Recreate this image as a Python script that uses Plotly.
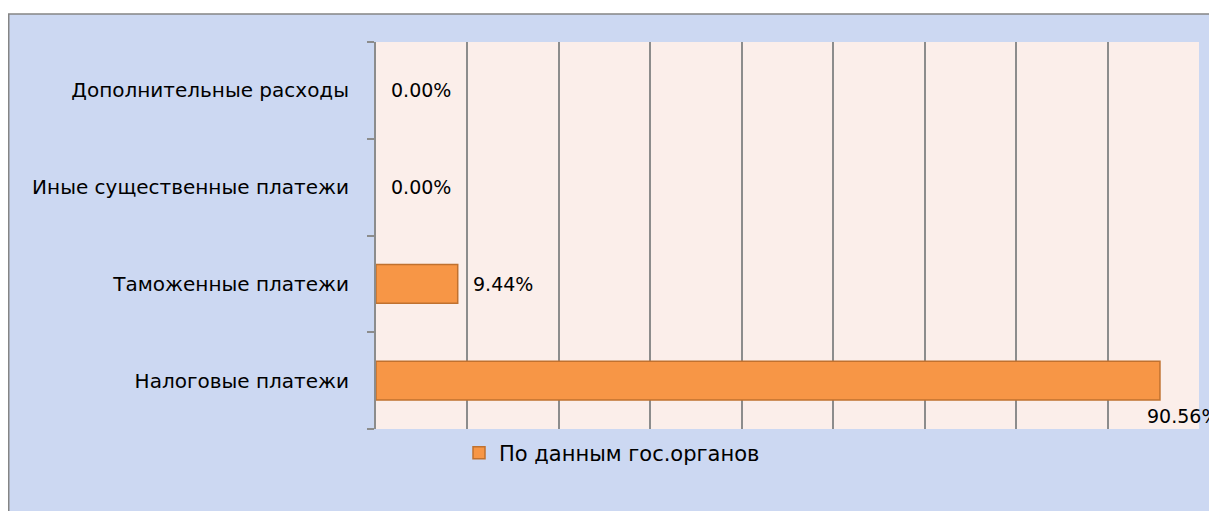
import plotly.graph_objects as go

categories = ["Налоговые платежи", "Таможенные платежи", "Иные существенные платежи", "Дополнительные расходы"]
values = [90.56, 9.44, 0.00, 0.00]
series_name = "По данным гос.органов"

# layout constants (pixels); page body adds an 8px margin
OFF = 8
W, H = 1217 - OFF, 511 - OFF
L, R, T, B = 376 - OFF, 18, 42 - OFF, 82
pw, ph = W - L - R, H - T - B
axis_max = 95.07
n_grid = 9

def px_to_paper_x(px_ref):
    return (px_ref - OFF - L) / pw

def px_to_paper_y(py_ref):
    return (H - B - (py_ref - OFF)) / ph

bar_line_colors = ["#C0712F" if v > 0 else "rgba(0,0,0,0)" for v in values]

fig = go.Figure()
fig.add_trace(go.Bar(
    y=categories, x=values, orientation="h", name=series_name,
    width=0.4,
    marker=dict(color="#F79646", line=dict(color=bar_line_colors, width=1.5)),
    showlegend=True,
))

# data labels (offsets are styling only)
label_offsets = [(-15, -35), (13, 0), (13, 0), (13, 0)]
for cat, val, (dx, dy) in zip(categories, values, label_offsets):
    fig.add_annotation(x=val, y=cat, text=f"{val:.2f}%", showarrow=False,
                       xanchor="left", yanchor="middle", xshift=dx, yshift=dy,
                       font=dict(family="DejaVu Sans", size=19, color="#000000"))

fig.update_layout(
    width=W, height=H,
    margin=dict(l=L, r=R, t=T, b=B, pad=0),
    paper_bgcolor="#FFFFFF",
    plot_bgcolor="rgba(0,0,0,0)",
    font=dict(family="DejaVu Sans", size=20, color="#000000"),
    shapes=[
        dict(type="rect", xref="paper", yref="paper", layer="below",
             x0=px_to_paper_x(8.75), x1=px_to_paper_x(1240),
             y0=px_to_paper_y(540), y1=px_to_paper_y(14),
             fillcolor="#CCD8F2", line=dict(color="#858585", width=1.5)),
        dict(type="rect", xref="paper", yref="paper", layer="below",
             x0=0, x1=1, y0=0, y1=1,
             fillcolor="#FBEEEA", line=dict(width=0)),
    ],
    xaxis=dict(range=[0, axis_max],
               tickvals=[i * axis_max / n_grid for i in range(n_grid + 1)],
               showticklabels=False, showgrid=True, gridcolor="#8C8C8C", gridwidth=1.5,
               zeroline=False, showline=False, fixedrange=True),
    yaxis=dict(type="category", categoryorder="array", categoryarray=categories,
               tickson="boundaries", ticks="outside", ticklen=7, tickcolor="#8C8C8C",
               tickwidth=1.5, showline=True, linecolor="#8C8C8C", linewidth=2,
               showgrid=False, ticklabelstandoff=21,
               tickfont=dict(family="DejaVu Sans", size=20, color="#000000")),
    legend=dict(orientation="h", x=px_to_paper_x(612), y=px_to_paper_y(453),
                xanchor="center", yanchor="middle", bgcolor="rgba(0,0,0,0)",
                font=dict(family="DejaVu Sans", size=21, color="#000000")),
)

fig.write_html("out.html")
